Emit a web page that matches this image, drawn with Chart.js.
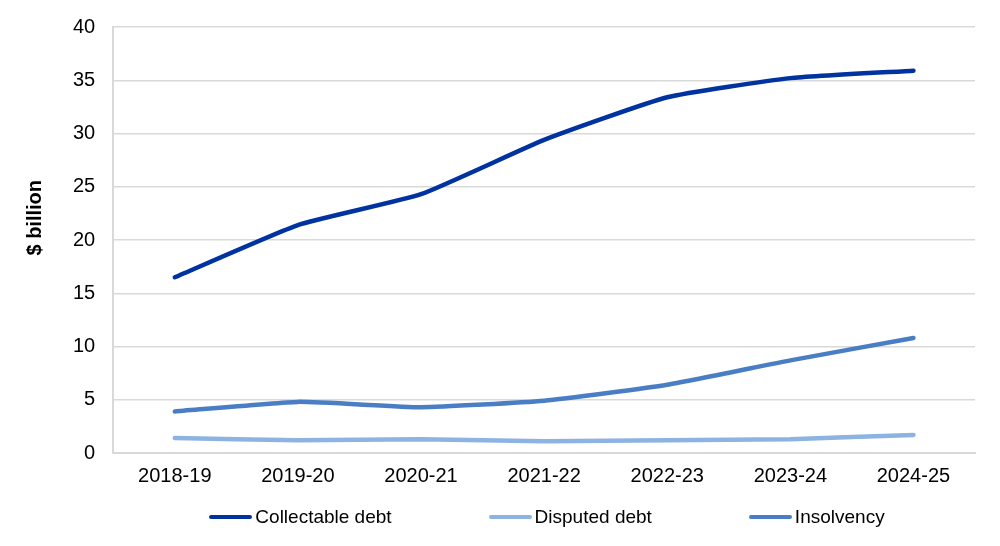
<!doctype html>
<html>

<head>
    <title>Debt chart</title>
    <script src="https://cdn.jsdelivr.net/npm/chart.js"></script>
    <style>
        body {
            margin: 0;
            background: #ffffff;
            font-family: 'Liberation Sans', Arial, sans-serif;
        }

        #wrap {
            position: relative;
            width: 1000px;
            height: 546px;
        }

        #legenda {
            position: absolute;
            left: 0;
            top: 506px;
            width: 1094px;
            display: flex;
            justify-content: center;
            gap: 97px;
            font-size: 19px;
            color: #000;
        }

        .item {
            display: flex;
            align-items: center;
        }

        .linha {
            display: inline-block;
            width: 43px;
            height: 4px;
            border-radius: 2px;
            margin-right: 3px;
        }
    </style>
</head>

<body>
    <div id="wrap">
        <canvas id="grafico" width="1000" height="546"></canvas>
        <div id="legenda"></div>
    </div>

    <script>
        // dados
        var anos = ['2018-19', '2019-20', '2020-21', '2021-22', '2022-23', '2023-24', '2024-25'];
        var collectable = [16.5, 21.4, 24.3, 29.4, 33.4, 35.2, 35.9];
        var disputed = [1.4, 1.2, 1.3, 1.1, 1.2, 1.3, 1.7];
        var insolvency = [3.9, 4.8, 4.3, 4.9, 6.4, 8.7, 10.8];
        var yTicks = [0, 5, 10, 15, 20, 25, 30, 35, 40];

        var nomes = ['Collectable debt', 'Disputed debt', 'Insolvency'];
        var cores = ['#0033a0', '#8db3e2', '#4a7ec4'];
        var series = [collectable, disputed, insolvency];

        var datasets = series.map((valores, i) => ({
            label: nomes[i],
            data: valores,
            borderColor: cores[i],
            backgroundColor: cores[i],
            borderWidth: 4.5,
            borderCapStyle: 'round',
            pointRadius: 0,
            tension: 0.15
        }));

        var corGrade = '#d9d9d9';

        var grafico = new Chart(document.getElementById('grafico'), {
            type: 'line',
            data: { labels: anos, datasets: datasets },
            options: {
                responsive: false,
                animation: false,
                layout: { padding: { left: 23, right: 25, top: 11, bottom: 47 } },
                plugins: {
                    legend: { display: false },
                    tooltip: { enabled: false }
                },
                scales: {
                    x: {
                        offset: true,
                        grid: { display: false, drawTicks: false },
                        border: { color: corGrade, width: 2 },
                        ticks: {
                            color: '#000',
                            padding: 11,
                            font: { family: 'Liberation Sans', size: 20 }
                        }
                    },
                    y: {
                        min: 0,
                        max: 40,
                        afterBuildTicks: (eixo) => {
                            eixo.ticks = yTicks.map(v => ({ value: v }));
                        },
                        grid: { color: corGrade, lineWidth: 1.5, drawTicks: false },
                        border: { color: corGrade, width: 2 },
                        ticks: {
                            color: '#000',
                            padding: 18,
                            font: { family: 'Liberation Sans', size: 20, lineHeight: 0.9 }
                        },
                        title: {
                            display: true,
                            // espaços à frente sobem o título como no original
                            text: '        $ billion',
                            color: '#000',
                            padding: { top: 0, bottom: 8 },
                            font: { family: 'Liberation Sans', size: 20, weight: 'bold' }
                        }
                    }
                }
            }
        });

        // legenda em HTML
        var legenda = document.getElementById('legenda');
        nomes.forEach((nome, i) => {
            var item = document.createElement('div');
            item.className = 'item';
            var linha = document.createElement('span');
            linha.className = 'linha';
            linha.style.background = cores[i];
            var texto = document.createElement('span');
            texto.textContent = nome;
            item.appendChild(linha);
            item.appendChild(texto);
            legenda.appendChild(item);
        });
    </script>
</body>

</html>
